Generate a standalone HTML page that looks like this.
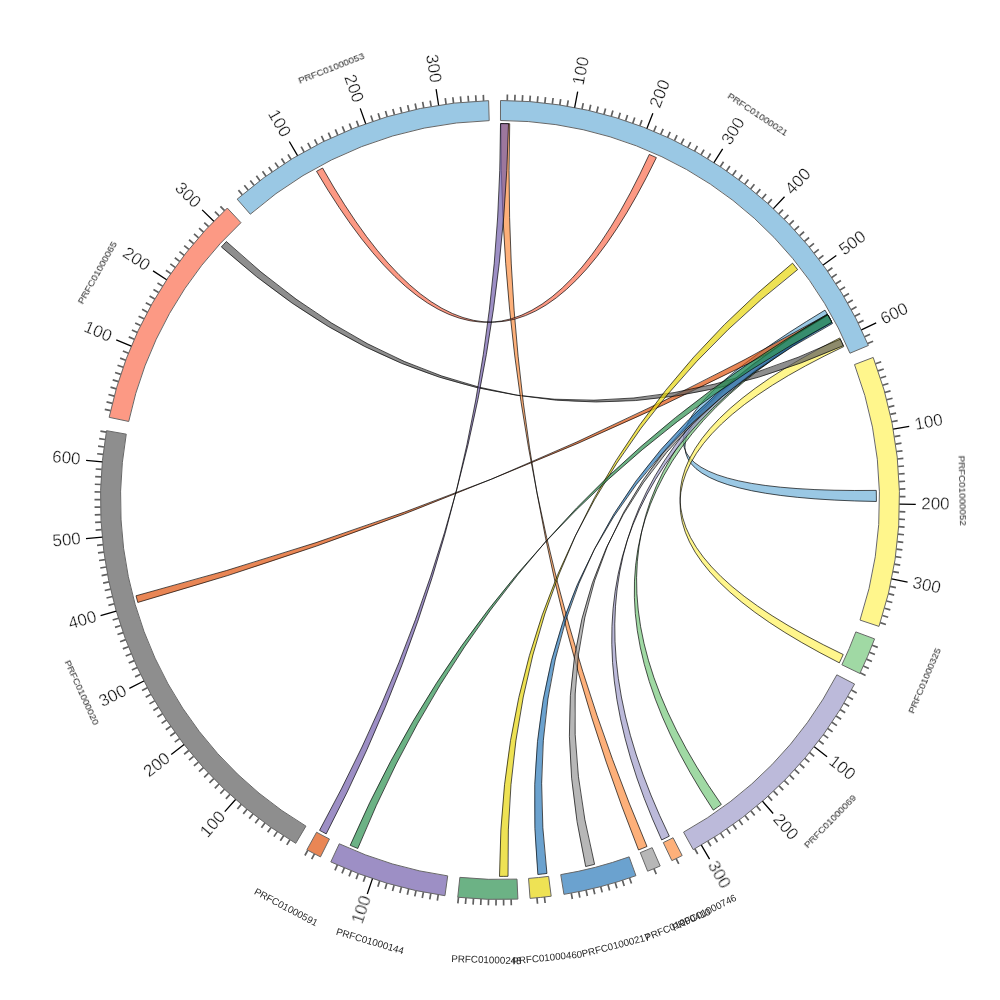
<!DOCTYPE html>
<html><head><meta charset="utf-8"><title>Chord diagram</title>
<style>html,body{margin:0;padding:0;background:#fff}svg{display:block;font-family:"Liberation Sans",sans-serif}</style>
</head><body>
<svg width="1000" height="1000" viewBox="0 0 1000 1000">
<rect width="1000" height="1000" fill="#fff"/>
<path d="M825 310.12 Q517.79 494.94 876.28 490.4 A376.4 376.4 0 0 1 876.4 501.48 Q517.94 495.47 830.48 319.84 A376.4 376.4 0 0 0 825 310.12Z" fill="#6fb0d8" fill-opacity="0.7" stroke="#000" stroke-width="0.8" stroke-opacity="0.85"/>
<path d="M839.74 337.96 Q518.5 499.8 843.22 654.52 A376.4 376.4 0 0 1 839.35 662.85 Q518.5 500.26 843.73 346.61 A376.4 376.4 0 0 0 839.74 337.96Z" fill="#fff25b" fill-opacity="0.7" stroke="#000" stroke-width="0.8" stroke-opacity="0.85"/>
<path d="M827.45 314.39 Q500 500 137.81 602.45 A376.4 376.4 0 0 1 135.99 595.79 Q500 500 830.8 320.42 A376.4 376.4 0 0 0 827.45 314.39Z" fill="#e0520d" fill-opacity="0.7" stroke="#000" stroke-width="0.8" stroke-opacity="0.85"/>
<path d="M221.36 246.95 Q500.44 497.02 840.3 339.15 A376.4 376.4 0 0 1 843.32 345.71 Q500.5 497.03 226.37 241.54 A376.4 376.4 0 0 0 221.36 246.95Z" fill="#5e5e5e" fill-opacity="0.7" stroke="#000" stroke-width="0.8" stroke-opacity="0.85"/>
<path d="M827.29 314.1 Q509.41 502.03 721.33 804.45 A376.4 376.4 0 0 1 713.3 810.13 Q509.34 502.27 831.89 322.44 A376.4 376.4 0 0 0 827.29 314.1Z" fill="#77c97e" fill-opacity="0.7" stroke="#000" stroke-width="0.8" stroke-opacity="0.85"/>
<path d="M827.61 314.67 Q506.99 502.12 669.32 836.17 A376.4 376.4 0 0 1 661.66 839.91 Q506.94 502.28 831.73 322.15 A376.4 376.4 0 0 0 827.61 314.67Z" fill="#a09dca" fill-opacity="0.7" stroke="#000" stroke-width="0.8" stroke-opacity="0.85"/>
<path d="M500.83 123.6 Q500 500 647.01 846.5 A376.4 376.4 0 0 1 638.52 849.99 Q500 500 509.71 123.73 A376.4 376.4 0 0 0 500.83 123.6Z" fill="#fc8e41" fill-opacity="0.7" stroke="#000" stroke-width="0.8" stroke-opacity="0.85"/>
<path d="M827.94 315.24 Q503.95 501.68 594.59 864.32 A376.4 376.4 0 0 1 585.67 866.52 Q503.85 501.74 831.58 321.86 A376.4 376.4 0 0 0 827.94 315.24Z" fill="#989898" fill-opacity="0.7" stroke="#000" stroke-width="0.8" stroke-opacity="0.85"/>
<path d="M827.94 315.24 Q502.71 501.37 546.95 873.46 A376.4 376.4 0 0 1 537.83 874.49 Q502.68 501.43 832.47 323.54 A376.4 376.4 0 0 0 827.94 315.24Z" fill="#2c7abb" fill-opacity="0.7" stroke="#000" stroke-width="0.8" stroke-opacity="0.85"/>
<path d="M792.55 263.16 Q501.21 500.56 508.04 876.31 A376.4 376.4 0 0 1 499.51 876.4 Q501.2 500.59 797.64 269.6 A376.4 376.4 0 0 0 792.55 263.16Z" fill="#e7d60c" fill-opacity="0.7" stroke="#000" stroke-width="0.8" stroke-opacity="0.85"/>
<path d="M827.68 314.79 Q500 500 357.78 848.5 A376.4 376.4 0 0 1 350.21 845.31 Q500 500 831.86 322.38 A376.4 376.4 0 0 0 827.68 314.79Z" fill="#2d9151" fill-opacity="0.7" stroke="#000" stroke-width="0.8" stroke-opacity="0.85"/>
<path d="M500.5 123.6 Q500 500 326.21 833.88 A376.4 376.4 0 0 1 319.55 830.33 Q500 500 508.52 123.7 A376.4 376.4 0 0 0 500.5 123.6Z" fill="#7460ad" fill-opacity="0.7" stroke="#000" stroke-width="0.8" stroke-opacity="0.85"/>
<path d="M316.54 171.34 Q499.06 481.52 649.25 154.45 A376.4 376.4 0 0 1 656.39 157.63 Q499.42 481.51 322.6 168.03 A376.4 376.4 0 0 0 316.54 171.34Z" fill="#fb6e50" fill-opacity="0.7" stroke="#000" stroke-width="0.8" stroke-opacity="0.85"/>
<path d="M500.5 100.5 A399.5 399.5 0 0 1 868.4 345.47 L849.96 353.21 A379.5 379.5 0 0 0 500.47 120.5Z" fill="#6fb0d8" fill-opacity="0.7" stroke="#686868" stroke-width="1"/>
<path d="M873.2 357.43 A399.5 399.5 0 0 1 878.98 626.4 L860 620.07 A379.5 379.5 0 0 0 854.51 364.57Z" fill="#fff25b" fill-opacity="0.7" stroke="#686868" stroke-width="1"/>
<path d="M874.58 638.88 A399.5 399.5 0 0 1 859.88 673.46 L841.86 664.77 A379.5 379.5 0 0 0 855.83 631.92Z" fill="#77c97e" fill-opacity="0.7" stroke="#686868" stroke-width="1"/>
<path d="M854.58 684.04 A399.5 399.5 0 0 1 693.24 849.65 L683.57 832.15 A379.5 379.5 0 0 0 836.83 674.83Z" fill="#a09dca" fill-opacity="0.7" stroke="#686868" stroke-width="1"/>
<path d="M682.18 855.54 A399.5 399.5 0 0 1 671.89 860.63 L663.28 842.58 A379.5 379.5 0 0 0 673.06 837.74Z" fill="#fc8e41" fill-opacity="0.7" stroke="#686868" stroke-width="1"/>
<path d="M660.18 865.98 A399.5 399.5 0 0 1 647.65 871.21 L640.26 852.63 A379.5 379.5 0 0 0 652.16 847.66Z" fill="#989898" fill-opacity="0.7" stroke="#686868" stroke-width="1"/>
<path d="M635.94 875.66 A399.5 399.5 0 0 1 563.94 894.35 L560.74 874.61 A379.5 379.5 0 0 0 629.13 856.86Z" fill="#2c7abb" fill-opacity="0.7" stroke="#686868" stroke-width="1"/>
<path d="M551.19 896.21 A399.5 399.5 0 0 1 530.07 898.37 L528.56 878.42 A379.5 379.5 0 0 0 548.63 876.37Z" fill="#e7d60c" fill-opacity="0.7" stroke="#686868" stroke-width="1"/>
<path d="M517.9 899.1 A399.5 399.5 0 0 1 457.75 897.26 L459.86 877.37 A379.5 379.5 0 0 0 517.01 879.12Z" fill="#2d9151" fill-opacity="0.7" stroke="#686868" stroke-width="1"/>
<path d="M444.96 895.69 A399.5 399.5 0 0 1 330.82 861.91 L339.29 843.79 A379.5 379.5 0 0 0 447.71 875.88Z" fill="#7460ad" fill-opacity="0.7" stroke="#686868" stroke-width="1"/>
<path d="M320.47 856.89 A399.5 399.5 0 0 1 306.91 849.74 L316.58 832.23 A379.5 379.5 0 0 0 329.46 839.02Z" fill="#e0520d" fill-opacity="0.7" stroke="#686868" stroke-width="1"/>
<path d="M295.73 843.33 A399.5 399.5 0 0 1 106.56 430.68 L126.26 434.15 A379.5 379.5 0 0 0 305.95 826.14Z" fill="#5e5e5e" fill-opacity="0.7" stroke="#686868" stroke-width="1"/>
<path d="M109.15 417.32 A399.5 399.5 0 0 1 227.3 208.05 L240.96 222.66 A379.5 379.5 0 0 0 128.72 421.46Z" fill="#fb6e50" fill-opacity="0.7" stroke="#686868" stroke-width="1"/>
<path d="M237.15 199.15 A399.5 399.5 0 0 1 488.63 100.66 L489.2 120.65 A379.5 379.5 0 0 0 250.31 214.21Z" fill="#6fb0d8" fill-opacity="0.7" stroke="#686868" stroke-width="1"/>
<path d="M507.28 100.57 L507.39 94.57M514.81 100.77 L515.03 94.78M522.33 101.12 L522.67 95.13M529.85 101.62 L530.3 95.63M537.36 102.25 L537.92 96.28M544.85 103.03 L545.52 97.06M552.33 103.94 L553.11 97.99M559.79 105 L560.68 99.07M567.22 106.2 L568.23 100.28M582.02 109.01 L583.26 103.14M589.38 110.63 L590.72 104.78M596.71 112.38 L598.16 106.56M604 114.27 L605.56 108.48M611.25 116.3 L612.92 110.54M618.47 118.47 L620.25 112.74M625.64 120.77 L627.53 115.08M632.77 123.21 L634.76 117.55M639.85 125.78 L641.95 120.16M653.86 131.32 L656.17 125.78M660.79 134.28 L663.2 128.79M667.65 137.38 L670.17 131.93M674.46 140.61 L677.08 135.21M681.21 143.96 L683.93 138.61M687.89 147.44 L690.71 142.14M694.5 151.04 L697.42 145.8M701.05 154.77 L704.07 149.59M707.52 158.63 L710.64 153.5M720.24 166.69 L723.55 161.69M726.49 170.91 L729.89 165.96M732.65 175.23 L736.15 170.36M738.74 179.68 L742.32 174.87M744.73 184.24 L748.41 179.5M750.64 188.91 L754.41 184.24M756.46 193.69 L760.32 189.09M762.19 198.58 L766.13 194.05M767.83 203.58 L771.85 199.13M778.82 213.89 L783.01 209.59M784.16 219.19 L788.43 214.98M789.41 224.6 L793.75 220.47M794.55 230.11 L798.97 226.05M799.58 235.71 L804.08 231.74M804.51 241.41 L809.09 237.52M809.34 247.19 L813.98 243.4M814.05 253.07 L818.77 249.36M818.65 259.04 L823.43 255.42M827.51 271.22 L832.43 267.79M831.76 277.44 L836.75 274.1M835.9 283.73 L840.95 280.49M839.92 290.11 L845.02 286.95M843.82 296.55 L848.98 293.5M847.59 303.07 L852.81 300.11M851.24 309.66 L856.52 306.8M854.77 316.32 L860.1 313.56M858.17 323.04 L863.55 320.38M864.59 336.67 L870.06 334.22M867.6 343.57 L873.12 341.22M875.56 363.79 L881.2 361.74M878.06 370.89 L883.74 368.95M880.43 378.04 L886.14 376.21M882.66 385.24 L888.41 383.52M884.76 392.48 L890.54 390.86M886.72 399.75 L892.53 398.24M888.54 407.06 L894.37 405.66M890.22 414.4 L896.08 413.12M891.77 421.77 L897.65 420.6M894.44 436.6 L900.36 435.65M895.56 444.05 L901.5 443.21M896.55 451.52 L902.5 450.79M897.39 459 L903.36 458.39M898.09 466.5 L904.07 466M898.65 474.02 L904.64 473.63M899.07 481.54 L905.07 481.26M899.35 489.07 L905.35 488.9M899.49 496.6 L905.49 496.55M899.33 511.66 L905.33 511.84M899.04 519.19 L905.03 519.48M898.61 526.71 L904.59 527.11M898.03 534.22 L904.01 534.74M897.32 541.72 L903.28 542.35M896.46 549.2 L902.41 549.94M895.46 556.67 L901.4 557.52M894.32 564.12 L900.24 565.08M893.04 571.54 L898.95 572.62M890.07 586.31 L895.92 587.61M888.37 593.65 L894.2 595.06M886.53 600.96 L892.34 602.47M884.56 608.23 L890.34 609.85M882.45 615.46 L888.2 617.19M880.21 622.65 L885.92 624.49M872.17 645.21 L877.76 647.39M869.37 652.21 L874.92 654.49M866.43 659.14 L871.94 661.53M863.37 666.02 L868.83 668.52M860.17 672.85 L865.58 675.44M851.41 690.03 L856.69 692.88M847.76 696.62 L852.99 699.58M844 703.14 L849.16 706.2M840.1 709.59 L845.21 712.74M836.09 715.97 L841.14 719.21M831.96 722.27 L836.94 725.61M827.71 728.49 L832.63 731.92M823.34 734.63 L828.2 738.15M818.86 740.68 L823.65 744.3M809.56 752.53 L814.21 756.33M804.74 758.33 L809.32 762.2M799.82 764.03 L804.32 767.99M794.79 769.63 L799.21 773.68M789.65 775.14 L794 779.27M784.41 780.55 L788.68 784.77M779.07 785.87 L783.26 790.16M773.63 791.08 L777.74 795.45M768.09 796.19 L772.12 800.63M756.74 806.08 L760.59 810.68M750.92 810.87 L754.69 815.54M745.01 815.55 L748.69 820.29M739.02 820.11 L742.61 824.92M732.94 824.56 L736.44 829.43M726.78 828.89 L730.19 833.83M720.54 833.11 L723.85 838.11M714.22 837.21 L717.43 842.28M707.82 841.19 L710.94 846.31M694.81 848.78 L697.73 854.02M676.12 858.58 L678.77 863.97M653.94 868.65 L656.25 874.19M629.54 877.91 L631.49 883.59M622.39 880.29 L624.23 886M615.2 882.53 L616.93 888.28M607.97 884.63 L609.59 890.41M600.7 886.6 L602.21 892.41M593.39 888.43 L594.79 894.27M586.05 890.12 L587.34 895.98M578.68 891.68 L579.86 897.56M571.28 893.09 L572.35 898.99M544.46 897.02 L545.13 902.98M536.97 897.79 L537.52 903.76M511.13 899.35 L511.29 905.34M503.59 899.48 L503.65 905.48M496.06 899.48 L496 905.48M488.53 899.34 L488.36 905.33M481 899.05 L480.72 905.04M473.48 898.62 L473.08 904.61M465.97 898.05 L465.46 904.03M458.47 897.34 L457.85 903.3M438.25 894.7 L437.32 900.63M430.82 893.46 L429.78 899.37M423.41 892.09 L422.26 897.98M416.03 890.58 L414.77 896.44M408.68 888.92 L407.31 894.76M401.37 887.13 L399.89 892.95M394.09 885.2 L392.49 890.99M386.84 883.14 L385.14 888.89M379.64 880.94 L377.83 886.66M365.36 876.13 L363.34 881.78M358.29 873.52 L356.16 879.13M351.27 870.78 L349.04 876.35M344.31 867.91 L341.97 873.44M337.4 864.91 L334.96 870.39M314.44 853.79 L311.66 859.11M307.8 850.23 L304.92 855.49M289.93 839.81 L286.78 844.91M283.56 835.79 L280.31 840.83M277.27 831.65 L273.92 836.63M271.05 827.39 L267.62 832.31M264.92 823.01 L261.39 827.87M258.87 818.52 L255.25 823.31M252.91 813.92 L249.2 818.64M247.03 809.21 L243.24 813.85M241.25 804.38 L237.36 808.95M229.96 794.41 L225.9 798.83M224.45 789.27 L220.32 793.61M219.05 784.02 L214.83 788.28M213.74 778.67 L209.44 782.86M208.54 773.22 L204.16 777.33M203.44 767.68 L198.99 771.7M198.45 762.04 L193.92 765.98M193.56 756.31 L188.96 760.16M188.78 750.48 L184.11 754.25M179.56 738.57 L174.74 742.15M175.12 732.49 L170.24 735.98M170.79 726.32 L165.84 729.72M166.58 720.07 L161.57 723.38M162.49 713.75 L157.42 716.96M158.52 707.34 L153.39 710.46M154.67 700.87 L149.48 703.89M150.94 694.32 L145.7 697.24M147.34 687.71 L142.05 690.52M140.52 674.28 L135.12 676.89M137.29 667.47 L131.85 669.98M134.2 660.6 L128.71 663.01M131.24 653.67 L125.7 655.98M128.41 646.69 L122.83 648.89M125.71 639.66 L120.08 641.76M123.14 632.58 L117.48 634.57M120.71 625.45 L115.01 627.33M118.41 618.27 L112.68 620.05M114.22 603.8 L108.43 605.36M112.33 596.51 L106.51 597.96M110.58 589.18 L104.73 590.52M108.97 581.82 L103.1 583.05M107.5 574.44 L101.6 575.55M106.16 567.02 L100.25 568.03M104.97 559.58 L99.04 560.48M103.92 552.12 L97.97 552.91M103 544.65 L97.04 545.32M101.6 529.65 L95.62 530.09M101.11 522.13 L95.12 522.46M100.77 514.6 L94.77 514.82M100.56 507.07 L94.56 507.18M100.5 499.54 L94.5 499.53M100.58 492.01 L94.58 491.89M100.8 484.48 L94.81 484.25M101.17 476.95 L95.18 476.61M101.67 469.44 L95.69 468.98M103.11 454.44 L97.15 453.76M104.04 446.97 L98.09 446.17M105.11 439.51 L99.18 438.6M106.32 432.07 L100.4 431.05M110.61 410.7 L104.76 409.35M112.36 403.37 L106.54 401.92M114.25 396.08 L108.46 394.52M116.28 388.82 L110.52 387.15M118.45 381.61 L112.72 379.83M120.75 374.43 L115.05 372.55M123.18 367.3 L117.52 365.31M125.75 360.22 L120.13 358.12M128.45 353.19 L122.87 350.99M134.25 339.29 L128.76 336.87M137.35 332.42 L131.9 329.9M140.57 325.61 L135.17 322.99M143.92 318.86 L138.58 316.14M147.4 312.18 L142.11 309.36M151.01 305.57 L145.76 302.65M154.73 299.02 L149.55 296M158.59 292.55 L153.46 289.43M162.56 286.15 L157.49 282.94M170.86 273.58 L165.92 270.18M175.19 267.41 L170.31 263.92M179.63 261.33 L174.82 257.74M184.19 255.33 L179.45 251.65M188.86 249.42 L184.19 245.65M193.64 243.6 L189.04 239.74M198.53 237.86 L194 233.93M203.52 232.23 L199.07 228.21M208.63 226.68 L204.25 222.58M219.14 215.89 L214.92 211.63M224.55 210.65 L220.41 206.3M242.3 194.73 L238.42 190.15M248.1 189.93 L244.31 185.27M253.99 185.23 L250.29 180.51M259.97 180.65 L256.36 175.85M266.03 176.18 L262.52 171.32M272.18 171.83 L268.76 166.9M278.41 167.59 L275.08 162.6M284.71 163.47 L281.48 158.42M291.1 159.47 L287.96 154.36M304.09 151.84 L301.14 146.61M310.69 148.2 L307.84 142.92M317.35 144.7 L314.61 139.36M324.08 141.32 L321.44 135.93M330.88 138.06 L328.34 132.63M337.73 134.94 L335.3 129.46M344.65 131.94 L342.31 126.42M351.61 129.08 L349.38 123.51M358.63 126.35 L356.51 120.74M372.82 121.28 L370.91 115.6M379.98 118.95 L378.18 113.23M387.19 116.76 L385.5 111M394.44 114.7 L392.85 108.91M401.72 112.78 L400.25 106.96M409.04 110.99 L407.67 105.15M416.39 109.35 L415.14 103.48M423.77 107.84 L422.63 101.95M431.18 106.47 L430.15 100.56M446.07 104.16 L445.26 98.21M453.54 103.21 L452.84 97.25M461.03 102.41 L460.44 96.43M468.53 101.74 L468.06 95.76M476.05 101.22 L475.69 95.23M483.57 100.84 L483.32 94.84" stroke="#606060" stroke-width="1.7" fill="none"/>
<path d="M574.64 107.53 L577.68 91.52M646.88 128.48 L652.88 113.32M713.92 162.6 L722.65 148.83M773.37 208.68 L784.53 196.79M823.14 265.09 L836.32 255.5M861.44 329.82 L876.19 322.88M893.17 429.18 L909.21 426.29M899.48 504.13 L915.78 504.3M891.62 578.94 L907.6 582.16M814.27 746.65 L827.09 756.72M762.46 801.19 L773.17 813.48M701.35 845.05 L709.57 859.13M372.48 878.6 L367.27 894.05M235.56 799.45 L224.77 811.67M184.11 744.57 L171.22 754.55M143.87 681.02 L129.34 688.41M116.25 611.06 L100.59 615.59M102.23 537.15 L86 538.67M102.32 461.93 L86.09 460.38M131.29 346.21 L116.24 339.94M166.65 279.82 L153.05 270.84M213.83 221.24 L202.16 209.87M297.56 155.59 L289.3 141.54M365.7 123.75 L360.22 108.4M438.61 105.24 L436.11 89.14" stroke="#000" stroke-width="1.3" fill="none"/>
<g font-size="17" fill="#111" stroke="#fff" stroke-width="0.3" opacity="0.99"><text transform="translate(578.93 84.96) rotate(-79.23)" text-anchor="start" dy="0.28em">100</text><text transform="translate(655.31 107.17) rotate(-68.43)" text-anchor="start" dy="0.28em">200</text><text transform="translate(726.14 143.33) rotate(-57.62)" text-anchor="start" dy="0.28em">300</text><text transform="translate(788.89 192.15) rotate(-46.82)" text-anchor="start" dy="0.28em">400</text><text transform="translate(841.34 251.85) rotate(-36.02)" text-anchor="start" dy="0.28em">500</text><text transform="translate(881.63 320.32) rotate(-25.21)" text-anchor="start" dy="0.28em">600</text><text transform="translate(914.84 425.27) rotate(-10.21)" text-anchor="start" dy="0.28em">100</text><text transform="translate(921.26 504.36) rotate(0.59)" text-anchor="start" dy="0.28em">200</text><text transform="translate(912.66 583.18) rotate(11.4)" text-anchor="start" dy="0.28em">300</text><text transform="translate(830.59 759.46) rotate(38.13)" text-anchor="start" dy="0.28em">100</text><text transform="translate(775.94 816.66) rotate(48.93)" text-anchor="start" dy="0.28em">200</text><text transform="translate(711.6 862.61) rotate(59.73)" text-anchor="start" dy="0.28em">300</text><text transform="translate(366.48 896.39) rotate(288.62)" text-anchor="end" dy="0.28em">100</text><text transform="translate(222.71 813.99) rotate(311.45)" text-anchor="end" dy="0.28em">100</text><text transform="translate(168.42 756.72) rotate(322.25)" text-anchor="end" dy="0.28em">200</text><text transform="translate(125.73 690.24) rotate(333.06)" text-anchor="end" dy="0.28em">300</text><text transform="translate(96.16 616.87) rotate(343.86)" text-anchor="end" dy="0.28em">400</text><text transform="translate(80.82 539.15) rotate(354.66)" text-anchor="end" dy="0.28em">500</text><text transform="translate(80.5 459.85) rotate(365.47)" text-anchor="end" dy="0.28em">600</text><text transform="translate(110.74 337.64) rotate(382.64)" text-anchor="end" dy="0.28em">100</text><text transform="translate(147.91 267.44) rotate(393.44)" text-anchor="end" dy="0.28em">200</text><text transform="translate(197.62 205.44) rotate(404.25)" text-anchor="end" dy="0.28em">300</text><text transform="translate(285.98 135.91) rotate(419.55)" text-anchor="end" dy="0.28em">100</text><text transform="translate(357.99 102.15) rotate(430.36)" text-anchor="end" dy="0.28em">200</text><text transform="translate(435.08 82.53) rotate(441.16)" text-anchor="end" dy="0.28em">300</text></g>
<g font-size="9.8" fill="#262626" opacity="0.99"><text transform="translate(757.6 114.38) rotate(33.66)" text-anchor="middle" dy="0.355em">PRFC01000021</text><text transform="translate(962.25 490.58) rotate(88.77)" text-anchor="middle" dy="0.355em">PRFC01000052</text><text transform="translate(924.57 680.84) rotate(-66.96)" text-anchor="middle" dy="0.355em">PRFC01000325</text><text transform="translate(830.03 821.53) rotate(-45.75)" text-anchor="middle" dy="0.355em">PRFC01000069</text><text transform="translate(704.17 912.46) rotate(-26.31)" text-anchor="middle" dy="0.355em">PRFC01000746</text><text transform="translate(677.55 924.51) rotate(-22.66)" text-anchor="middle" dy="0.355em">PRFC01000410</text><text transform="translate(615.92 945.15) rotate(-14.55)" text-anchor="middle" dy="0.355em">PRFC01000217</text><text transform="translate(547.23 957.43) rotate(-5.84)" text-anchor="middle" dy="0.355em">PRFC01000460</text><text transform="translate(486.46 959.59) rotate(1.75)" text-anchor="middle" dy="0.355em">PRFC01000248</text><text transform="translate(370.12 941.01) rotate(16.49)" text-anchor="middle" dy="0.355em">PRFC01000144</text><text transform="translate(286.13 907.03) rotate(27.8)" text-anchor="middle" dy="0.355em">PRFC01000591</text><text transform="translate(81.66 692.51) rotate(65.37)" text-anchor="middle" dy="0.355em">PRFC01000020</text><text transform="translate(97.3 272.85) rotate(299.45)" text-anchor="middle" dy="0.355em">PRFC01000065</text><text transform="translate(331.25 68.33) rotate(338.61)" text-anchor="middle" dy="0.355em">PRFC01000053</text></g>
</svg>
</body></html>
